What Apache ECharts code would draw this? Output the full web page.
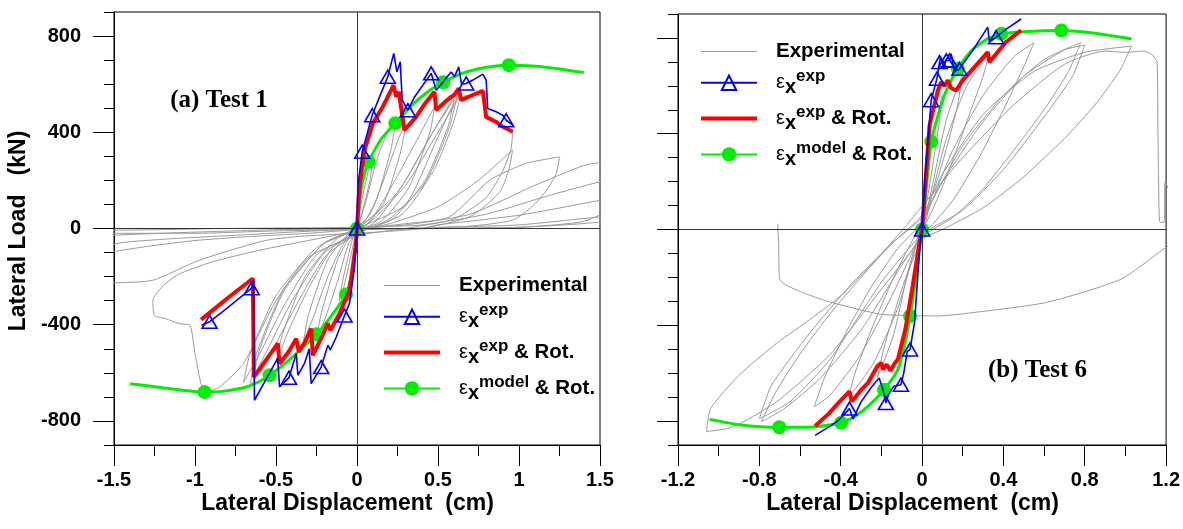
<!DOCTYPE html>
<html><head><meta charset="utf-8">
<script src="https://cdn.jsdelivr.net/npm/echarts@6/dist/echarts.min.js"></script>
<style>html,body{margin:0;padding:0;background:#fff}#c{width:1183px;height:529px}</style>
</head><body><div id="c"></div><script>
// ---------- Test 1 (left panel) ----------
const exp1 = [
[0,0],[0.03,120],[0.07,240],[0.1,300],[0.08,200],[0.03,60],[0,0],[-0.04,-120],[-0.08,-240],[-0.11,-300],[-0.08,-190],[-0.03,-50],[0,0],
[0.05,100],[0.12,280],[0.2,420],[0.24,450],[0.21,330],[0.12,120],[0.03,10],[-0.05,-60],[-0.12,-220],[-0.2,-380],[-0.25,-460],[-0.22,-350],[-0.12,-130],[-0.03,-20],
[0.08,60],[0.18,230],[0.26,380],[0.3,430],[0.27,320],[0.17,110],[0.05,10],[-0.08,-60],[-0.18,-200],[-0.27,-370],[-0.33,-470],[-0.3,-360],[-0.18,-130],[-0.05,-20],
[0.1,50],[0.25,220],[0.38,380],[0.48,510],[0.45,400],[0.32,170],[0.15,30],[0,-10],[-0.15,-80],[-0.3,-250],[-0.42,-420],[-0.5,-560],[-0.46,-440],[-0.32,-200],[-0.12,-40],
[0.1,20],[0.3,200],[0.45,380],[0.6,550],[0.62,560],[0.57,420],[0.42,190],[0.2,40],[0,-20],[-0.2,-100],[-0.4,-300],[-0.55,-500],[-0.64,-620],[-0.6,-500],[-0.45,-260],[-0.2,-60],
[0.05,10],[0.3,180],[0.5,400],[0.64,556],[0.6,450],[0.48,250],[0.28,60],[0,-20],[-0.25,-110],[-0.45,-320],[-0.6,-520],[-0.7,-640],[-0.66,-520],[-0.5,-280],[-0.25,-80],
[0,0],[0.25,150],[0.45,380],[0.6,540],[0.56,420],[0.42,200],[0.22,40],[0,-20],[-0.2,-120],[-0.4,-350],[-0.58,-580],[-0.66,-650],[-0.62,-520],[-0.45,-250],[-0.2,-60],
[0,0],[0.3,100],[0.5,380],[0.62,540],[0.78,560],[0.8,470],[0.9,420],[0.96,396],[0.95,330],[0.9,240],[0.8,130],[0.6,40],[0.3,0],[0,-30],
[-0.3,-120],[-0.5,-300],[-0.7,-560],[-0.85,-660],[-0.94,-680],[-1.0,-520],[-1.03,-404],[-1.1,-395],[-1.18,-375],[-1.25,-362],[-1.26,-300],[-1.2,-240],[-1.1,-190],[-0.9,-140],[-0.6,-90],[-0.3,-50],[0,-10],
[0.2,20],[0.5,90],[0.75,200],[0.9,290],[0.96,326],[0.94,250],[0.88,150],[0.7,50],[0.4,0],[0,-20],
[-0.3,-30],[-0.56,-49],[-0.97,-131],[-1.26,-215],[-1.5,-226],[-1.65,-230],[-1.6,-120],[-1.5,-65],[-1.2,-45],[-0.8,-30],[-0.4,-15],[0,0],
[0.3,20],[0.57,48],[0.82,201],[1.04,270],[1.25,298],[1.23,229],[1.17,159],[1.08,90],[0.96,35],[0.7,10],[0.3,0],[0,-5],
[-0.3,-20],[-0.7,-35],[-1.0,-50],[-1.3,-75],[-1.5,-95],[-1.7,-110],[-1.68,-40],[-1.5,-28],[-1.0,-15],[-0.5,-5],[0,0],
[0.3,15],[0.7,60],[1.1,180],[1.4,262],[1.5,274],[1.65,285],[1.6,100],[1.4,30],[1.0,5],[0.5,0],[0,-5],
[-0.5,-10],[-1.0,-20],[-1.5,-20],[-1.7,-22],[-1.6,-5],[-1.5,-7],[-0.8,0],[0,5],
[0.4,15],[0.8,60],[1.2,140],[1.5,194],[1.7,220],[1.65,60],[1.5,27],[1.0,5],[0.4,0],
[0.5,15],[1.0,55],[1.5,117],[1.7,140],[1.6,50],[1.5,48],[1.0,15],[0.5,5]
];
const epsExp1 = [
[-0.96,-402],[-0.91,-388],[-0.8,-330],[-0.65,-248],[-0.639,-215],[-0.633,-714],[-0.56,-625],[-0.49,-540],[-0.478,-659],[-0.42,-620],
[-0.375,-520],[-0.365,-610],[-0.324,-561],[-0.295,-500],[-0.283,-645],[-0.221,-576],[-0.18,-485],[-0.165,-505],[-0.128,-451],[-0.077,-362],
[-0.046,-311],[-0.015,-160],[0,0],[0.005,173],[0.032,319],[0.057,381],[0.094,471],[0.139,547],[0.19,631],[0.227,728],
[0.246,651],[0.267,693],[0.279,534],[0.314,492],[0.355,547],[0.458,645],[0.489,575],[0.581,651],[0.602,631],[0.628,672],
[0.645,600],[0.674,603],[0.715,617],[0.777,642],[0.797,617],[0.807,499],[0.859,485],[0.9,471],[0.921,450],[0.962,430]
];
const epsExp1Marks = [1,3,9,15,19,22,24,26,28,33,35,41,48];
const epsRot1 = [
[-0.962,-379],[-0.8,-290],[-0.643,-208],[-0.637,-617],[-0.56,-545],[-0.489,-478],[-0.478,-562],[-0.42,-510],[-0.375,-458],[-0.359,-513],
[-0.32,-470],[-0.283,-416],[-0.273,-527],[-0.22,-455],[-0.18,-395],[-0.164,-423],[-0.108,-354],[-0.046,-257],[-0.009,-77],[0,0],
[0.015,173],[0.046,326],[0.098,437],[0.159,506],[0.211,575],[0.225,596],[0.242,547],[0.258,568],[0.293,409],[0.365,464],
[0.42,520],[0.478,568],[0.489,492],[0.55,530],[0.581,547],[0.6,555],[0.628,582],[0.643,534],[0.715,555],[0.777,572],
[0.797,464],[0.859,443],[0.9,423],[0.962,402]
];
const model1 = [
[-1.40,-645],[-1.2,-662],[-0.941,-680],[-0.82,-676],[-0.684,-659],[-0.6,-635],[-0.54,-610],[-0.45,-565],[-0.35,-505],[-0.25,-440],
[-0.16,-365],[-0.068,-274],[-0.03,-180],[-0.01,-80],[0,0],[0.01,80],[0.03,180],[0.071,278],[0.15,372],[0.237,438],
[0.35,520],[0.45,575],[0.532,608],[0.65,645],[0.8,670],[0.937,679],[1.1,675],[1.25,663],[1.40,648]
];
const model1Marks = [2,6,9,11,14,17,19,22,25];

// ---------- Test 6 (right panel) ----------
const exp6 = [
[0,0],[0.02,150],[0.05,380],[0.1,560],[0.08,420],[0.03,150],[0,20],[-0.03,-150],[-0.06,-380],[-0.1,-540],[-0.07,-380],[-0.02,-120],[0,-20],
[0.05,180],[0.12,460],[0.2,650],[0.17,500],[0.08,220],[0,30],[-0.07,-180],[-0.14,-440],[-0.22,-620],[-0.18,-470],[-0.08,-200],[0,-30],
[0.05,150],[0.12,380],[0.22,600],[0.33,740],[0.3,640],[0.22,450],[0.12,220],[0.04,60],[0,0],[-0.04,-100],[-0.12,-330],[-0.24,-560],[-0.36,-700],[-0.33,-600],[-0.25,-420],[-0.14,-200],[-0.05,-50],[0,20],
[0.05,120],[0.15,330],[0.3,560],[0.45,720],[0.55,780],[0.5,680],[0.4,500],[0.28,300],[0.15,120],[0.05,20],[0,-20],[-0.05,-100],[-0.15,-280],[-0.3,-520],[-0.45,-690],[-0.53,-740],[-0.48,-620],[-0.38,-440],[-0.25,-240],[-0.12,-80],[0,30],
[0.05,120],[0.2,350],[0.4,560],[0.6,710],[0.78,780],[0.72,660],[0.6,500],[0.45,330],[0.3,170],[0.15,50],[0,-30],[-0.1,-150],[-0.3,-420],[-0.5,-620],[-0.68,-750],[-0.79,-802],[-0.72,-680],[-0.6,-520],[-0.45,-350],[-0.3,-200],[-0.15,-60],[0,50],
[0.1,200],[0.3,450],[0.5,640],[0.7,750],[0.8,770],[0.74,640],[0.6,470],[0.4,250],[0.2,80],[0,-20],[-0.2,-220],[-0.45,-540],[-0.65,-720],[-0.8,-790],[-0.74,-650],[-0.55,-430],[-0.35,-230],[-0.15,-60],[0,60],
[0.1,230],[0.3,480],[0.55,660],[0.8,740],[1.03,766],[0.97,660],[0.85,520],[0.7,380],[0.5,220],[0.3,90],[0.1,0],[0,-40],[-0.2,-250],[-0.45,-520],[-0.7,-710],[-0.85,-790],[-0.95,-830],[-1.06,-844],[-1.04,-748],[-0.9,-609],[-0.73,-485],[-0.57,-387],[-0.4,-277],[-0.24,-139],[-0.08,14],[0,97],
[0.2,300],[0.45,520],[0.7,690],[0.9,745],[1.0,740],[1.09,745],[1.13,730],[1.155,700],[1.16,400],[1.165,100],[1.17,30],[1.19,30],[1.195,200],[1.22,150],[1.25,0],[1.25,-50],[1.2,-74],[0.98,-207],[0.61,-305],[0.25,-347],[0.08,-361],[-0.03,-360],[-0.21,-353],[-0.5,-290],[-0.7,-208],[-0.705,-60],[-0.71,24]
];
const epsExp6 = [
[-0.526,-860],[-0.45,-820],[-0.412,-798],[-0.357,-748],[-0.339,-791],[-0.3,-720],[-0.25,-660],[-0.211,-620],[-0.192,-669],[-0.178,-725],
[-0.165,-690],[-0.14,-655],[-0.104,-648],[-0.09,-600],[-0.073,-510],[-0.059,-501],[-0.037,-389],[-0.01,-60],[0,0],[0.018,255],
[0.045,540],[0.073,630],[0.086,699],[0.091,720],[0.105,680],[0.119,706],[0.135,706],[0.143,734],[0.16,660],[0.184,671],
[0.247,745],[0.323,845],[0.331,783],[0.364,803],[0.412,836],[0.487,879]
];
const epsExp6Marks = [3,9,12,15,18,20,21,22,25,26,29,33];
const epsRot6 = [
[-0.526,-821],[-0.46,-770],[-0.412,-725],[-0.357,-676],[-0.345,-718],[-0.3,-670],[-0.266,-641],[-0.22,-571],[-0.2,-557],[-0.192,-585],
[-0.174,-564],[-0.155,-590],[-0.135,-560],[-0.119,-543],[-0.082,-417],[-0.046,-235],[-0.01,-40],[0,0],[0.01,120],[0.037,436],
[0.078,581],[0.094,616],[0.11,600],[0.127,623],[0.143,590],[0.168,581],[0.2,623],[0.26,680],[0.323,741],[0.331,699],
[0.413,783],[0.487,832]
];
const model6 = [
[-1.045,-793],[-0.9,-815],[-0.702,-826],[-0.6,-826],[-0.522,-824],[-0.398,-807],[-0.33,-780],[-0.266,-739],[-0.187,-669],[-0.119,-585],
[-0.085,-480],[-0.059,-361],[-0.03,-200],[0,0],[0.02,170],[0.045,367],[0.08,480],[0.119,580],[0.176,671],[0.247,750],
[0.32,795],[0.389,817],[0.52,827],[0.685,831],[0.85,820],[1.03,796]
];
const model6Marks = [2,5,8,11,13,15,18,21,23];

// ---------- ticks / labels ----------
const yLabels = [-800,-400,0,400,800];
const x1Labels = [-1.5,-1,-0.5,0,0.5,1,1.5];
const x6Labels = [-1.2,-0.8,-0.4,0,0.4,0.8,1.2];
const legendNames = ['Experimental','εx exp','εx exp & Rot.','εx model & Rot.'];

const FONT = '"Liberation Sans", Arial, sans-serif';
const chart = echarts.init(document.getElementById('c'), null, {renderer:'canvas'});

function marked(arr, marks){ return arr.map((p,i)=> marks.indexOf(i) >= 0 ? {value:p} : {value:p, symbol:'none'}); }

function xAxes(grid, min, max, step, bigStep, labels){
  return [
    {gridIndex:grid, type:'value', min:min, max:max, interval:step, position:'bottom',
     axisLine:{onZero:false, lineStyle:{color:'#000', width:1}},
     axisTick:{length:11, lineStyle:{color:'#000', width:1}},
     axisLabel:{customValues:labels, margin:25, fontSize:20, fontWeight:'bold', fontFamily:FONT, color:'#000',
       formatter:v=>String(+(+v).toFixed(2))},
     splitLine:{show:false}},
    {gridIndex:grid, type:'value', min:min, max:max, interval:bigStep, position:'bottom',
     axisLine:{show:false, onZero:false}, axisTick:{length:21, lineStyle:{color:'#000', width:1}},
     axisLabel:{show:false}, splitLine:{show:false}}
  ];
}
function yAxes(grid, showLabels){
  return [
    {gridIndex:grid, type:'value', min:-900, max:900, interval:100, position:'left',
     axisLine:{onZero:false, lineStyle:{color:'#000', width:1}},
     axisTick:{length:10, lineStyle:{color:'#000', width:1}},
     axisLabel:{show:showLabels, customValues:yLabels, margin:33, fontSize:20, fontWeight:'bold', fontFamily:FONT, color:'#000',
       formatter:v=>(v % 400 === 0 ? String(v) : '')},
     splitLine:{show:false}},
    {gridIndex:grid, type:'value', min:-900, max:900, position:'left',
     axisLine:{show:false, onZero:false}, axisTick:{length:21, customValues:yLabels, lineStyle:{color:'#000', width:1}},
     axisLabel:{show:false}, splitLine:{show:false}}
  ];
}

const zeroLines = {silent:true, symbol:['none','none'], label:{show:false}, animation:false,
  lineStyle:{color:'#333', width:1, type:'solid'}, emphasis:{disabled:true}, data:[{yAxis:0},{xAxis:0}]};

function panelSeries(xi, yi, exp, blue, blueMarks, red, green, greenMarks){
  return [
    {name:legendNames[0], type:'line', xAxisIndex:xi, yAxisIndex:yi, data:exp, symbol:'none', smooth:0.2,
     lineStyle:{color:'#9a9a9a', width:1}, itemStyle:{color:'#9a9a9a'}, z:2, markLine:zeroLines},
    {name:legendNames[3], type:'line', xAxisIndex:xi, yAxisIndex:yi, data:marked(green, greenMarks), symbol:'circle', symbolSize:14,
     showAllSymbol:true, smooth:0.2, lineStyle:{color:'#00ee00', width:3}, itemStyle:{color:'#00ee00'}, z:3},
    {name:legendNames[2], type:'line', xAxisIndex:xi, yAxisIndex:yi, data:red, symbol:'none',
     lineStyle:{color:'#ff0000', width:4}, itemStyle:{color:'#ff0000'}, z:4},
    {name:legendNames[1], type:'line', xAxisIndex:xi, yAxisIndex:yi, data:marked(blue, blueMarks), symbol:'triangle', symbolSize:[15,13],
     showAllSymbol:true, lineStyle:{color:'#0000ff', width:1.6},
     itemStyle:{color:'rgba(255,255,255,0)', borderColor:'#0000ff', borderWidth:1.6}, z:5}
  ];
}

const rich = {
  lead:{fontSize:20.5, fontWeight:'bold', fontFamily:FONT, color:'#000', lineHeight:30, padding:[0,0,0,14]},
  eps:{fontSize:20, fontWeight:'normal', fontFamily:FONT, color:'#000', lineHeight:30, padding:[0,0,0,14]},
  sub:{fontSize:20, fontWeight:'bold', fontFamily:FONT, color:'#000', lineHeight:20, verticalAlign:'bottom'},
  sup:{fontSize:17, fontWeight:'bold', fontFamily:FONT, color:'#000', lineHeight:24, verticalAlign:'top'},
  m:{fontSize:20.5, fontWeight:'bold', fontFamily:FONT, color:'#000', lineHeight:30}
};
function legendFmt(n){
  if (n === legendNames[0]) return '{lead|Experimental}';
  if (n === legendNames[1]) return '{eps|ε}{sub|x}{sup|exp}';
  if (n === legendNames[2]) return '{eps|ε}{sub|x}{sup|exp}{m| & Rot.}';
  return '{eps|ε}{sub|x}{sup|model}{m| & Rot.}';
}
function legend(left, top){
  return {orient:'vertical', left:left, top:top, itemWidth:56, itemHeight:18, itemGap:5.8, padding:0,
    data:[
      {name:legendNames[0], icon:'path://M0 0H56V1H0Z'},
      {name:legendNames[1]},
      {name:legendNames[2], icon:'path://M0 0H56V4H0Z'},
      {name:legendNames[3]}
    ],
    formatter:legendFmt, selectedMode:false, textStyle:{color:'#000', rich:rich}};
}

const titleStyle = (t, font) => ({text:t, font:font, fill:'#000', align:'center', verticalAlign:'middle', textAlign:'center', textVerticalAlign:'middle'});

chart.setOption({
  animation:false,
  backgroundColor:'#fff',
  grid:[
    {left:114, top:12, width:486, height:433, show:true, borderColor:'#000', borderWidth:1, backgroundColor:'transparent'},
    {left:678, top:14, width:489, height:431, show:true, borderColor:'#000', borderWidth:1, backgroundColor:'transparent'}
  ],
  xAxis:[].concat(xAxes(0,-1.5,1.5,0.25,0.5,x1Labels), xAxes(1,-1.2,1.2,0.2,0.4,x6Labels)),
  yAxis:[].concat(yAxes(0,true), yAxes(1,false)),
  legend:[legend(383,275), legend(700,41)],
  series:[].concat(
    panelSeries(0,0,exp1,epsExp1,epsExp1Marks,epsRot1,model1,model1Marks),
    panelSeries(2,2,exp6,epsExp6,epsExp6Marks,epsRot6,model6,model6Marks)
  ),
  graphic:[
    {type:'text', x:19, y:231, rotation:Math.PI/2, style:titleStyle('Lateral Load   (kN)', 'bold 23px ' + FONT)},
    {type:'text', x:347.5, y:504, style:titleStyle('Lateral Displacement  (cm)', 'bold 23px ' + FONT)},
    {type:'text', x:912.6, y:504, style:titleStyle('Lateral Displacement  (cm)', 'bold 23px ' + FONT)},
    {type:'text', x:219, y:101, style:titleStyle('(a) Test 1', 'bold 25px "Liberation Serif", "Times New Roman", serif')},
    {type:'text', x:1037.5, y:371, style:titleStyle('(b) Test 6', 'bold 25px "Liberation Serif", "Times New Roman", serif')}
  ]
});
</script></body></html>
